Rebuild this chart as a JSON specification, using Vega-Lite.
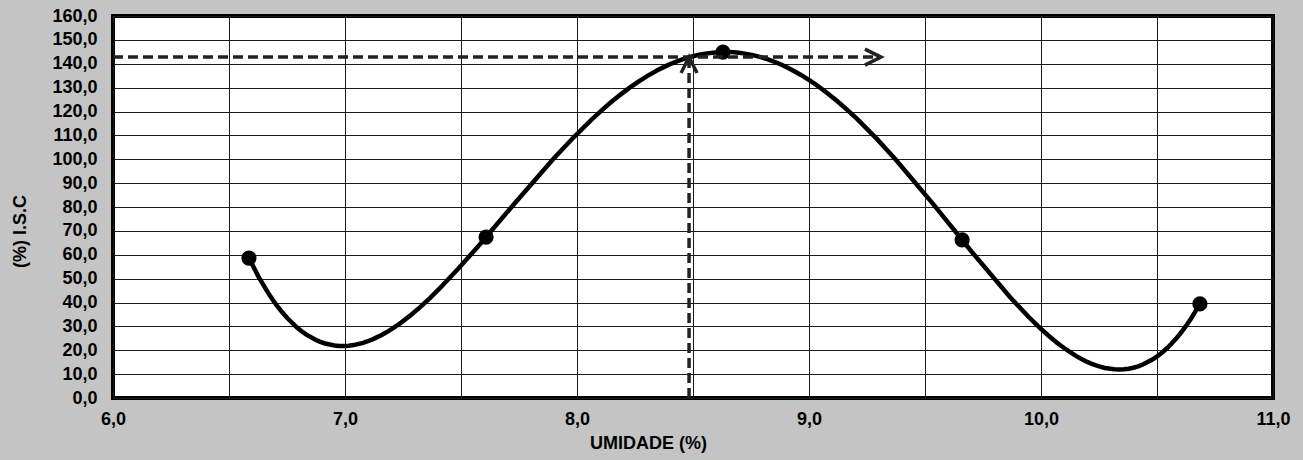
{
  "$schema": "https://vega.github.io/schema/vega-lite/v6.json",
  "width": 1160,
  "height": 382,
  "autosize": {"type": "none"},
  "padding": {"left": 113, "top": 16, "right": 30, "bottom": 62},
  "background": "#c4c4c4",
  "config": {
    "view": {"fill": "white", "stroke": "black", "strokeWidth": 4},
    "font": "Liberation Sans",
    "axis": {
      "labelFont": "Liberation Sans", "labelFontSize": 18, "labelFontWeight": "bold", "labelColor": "black",
      "titleFont": "Liberation Sans", "titleFontSize": 18, "titleFontWeight": "bold", "titleColor": "black",
      "ticks": false, "domain": false, "labelOverlap": false, "labelFlush": false,
      "grid": true, "gridColor": "#1a1a1a", "gridWidth": 1
    }
  },
  "datasets": {
    "pts": [
      {"umidade": 6.586, "isc": 58.6},
      {"umidade": 7.608, "isc": 67.4},
      {"umidade": 8.629, "isc": 144.9},
      {"umidade": 9.66, "isc": 66.2},
      {"umidade": 10.685, "isc": 39.4}
    ],
    "hline": [{"umidade": 6.0, "umidade2": 9.31, "isc": 142.8}],
    "hhead": [{"umidade": 9.31, "isc": 142.8}],
    "vline": [{"umidade": 8.483, "isc": 0, "isc2": 142.8}],
    "vhead": [{"umidade": 8.483, "isc": 142.8}]
  },
  "encoding": {
    "x": {
      "field": "umidade", "type": "quantitative",
      "scale": {"domain": [6, 11], "nice": false, "zero": false},
      "axis": {
        "values": [6, 6.5, 7, 7.5, 8, 8.5, 9, 9.5, 10, 10.5, 11],
        "labelExpr": "datum.value % 1 == 0 ? replace(format(datum.value, '.1f'), '.', ',') : ''",
        "title": "UMIDADE (%)", "titleX": 535, "titlePadding": 6,
        "labelPadding": 12
      }
    },
    "y": {
      "field": "isc", "type": "quantitative",
      "scale": {"domain": [0, 160], "nice": false},
      "axis": {
        "values": [0, 10, 20, 30, 40, 50, 60, 70, 80, 90, 100, 110, 120, 130, 140, 150, 160],
        "labelExpr": "replace(format(datum.value, '.1f'), '.', ',')",
        "title": "(%) I.S.C", "titleX": -84, "titleY": 215,
        "labelPadding": 16
      }
    }
  },
  "layer": [
    {
      "data": {"name": "pts"},
      "transform": [{"regression": "isc", "on": "umidade", "method": "poly", "order": 4}],
      "mark": {"type": "line", "color": "black", "strokeWidth": 4.5, "clip": true}
    },
    {
      "data": {"name": "pts"},
      "mark": {"type": "point", "filled": true, "color": "black", "size": 230, "opacity": 1}
    },
    {
      "data": {"name": "hline"},
      "mark": {"type": "rule", "color": "#222222", "strokeWidth": 3.5, "strokeDash": [10, 5]},
      "encoding": {"x2": {"field": "umidade2"}}
    },
    {
      "data": {"name": "hhead"},
      "mark": {"type": "point", "shape": "M-2,-1L0,0L-2,1", "filled": false, "stroke": "#222222", "strokeWidth": 3.5, "size": 256, "opacity": 1}
    },
    {
      "data": {"name": "vline"},
      "mark": {"type": "rule", "color": "#222222", "strokeWidth": 3.5, "strokeDash": [10, 5]},
      "encoding": {"y2": {"field": "isc2"}}
    },
    {
      "data": {"name": "vhead"},
      "mark": {"type": "point", "shape": "M-1,2L0,0L1,2", "filled": false, "stroke": "#222222", "strokeWidth": 3.5, "size": 256, "opacity": 1}
    }
  ]
}
